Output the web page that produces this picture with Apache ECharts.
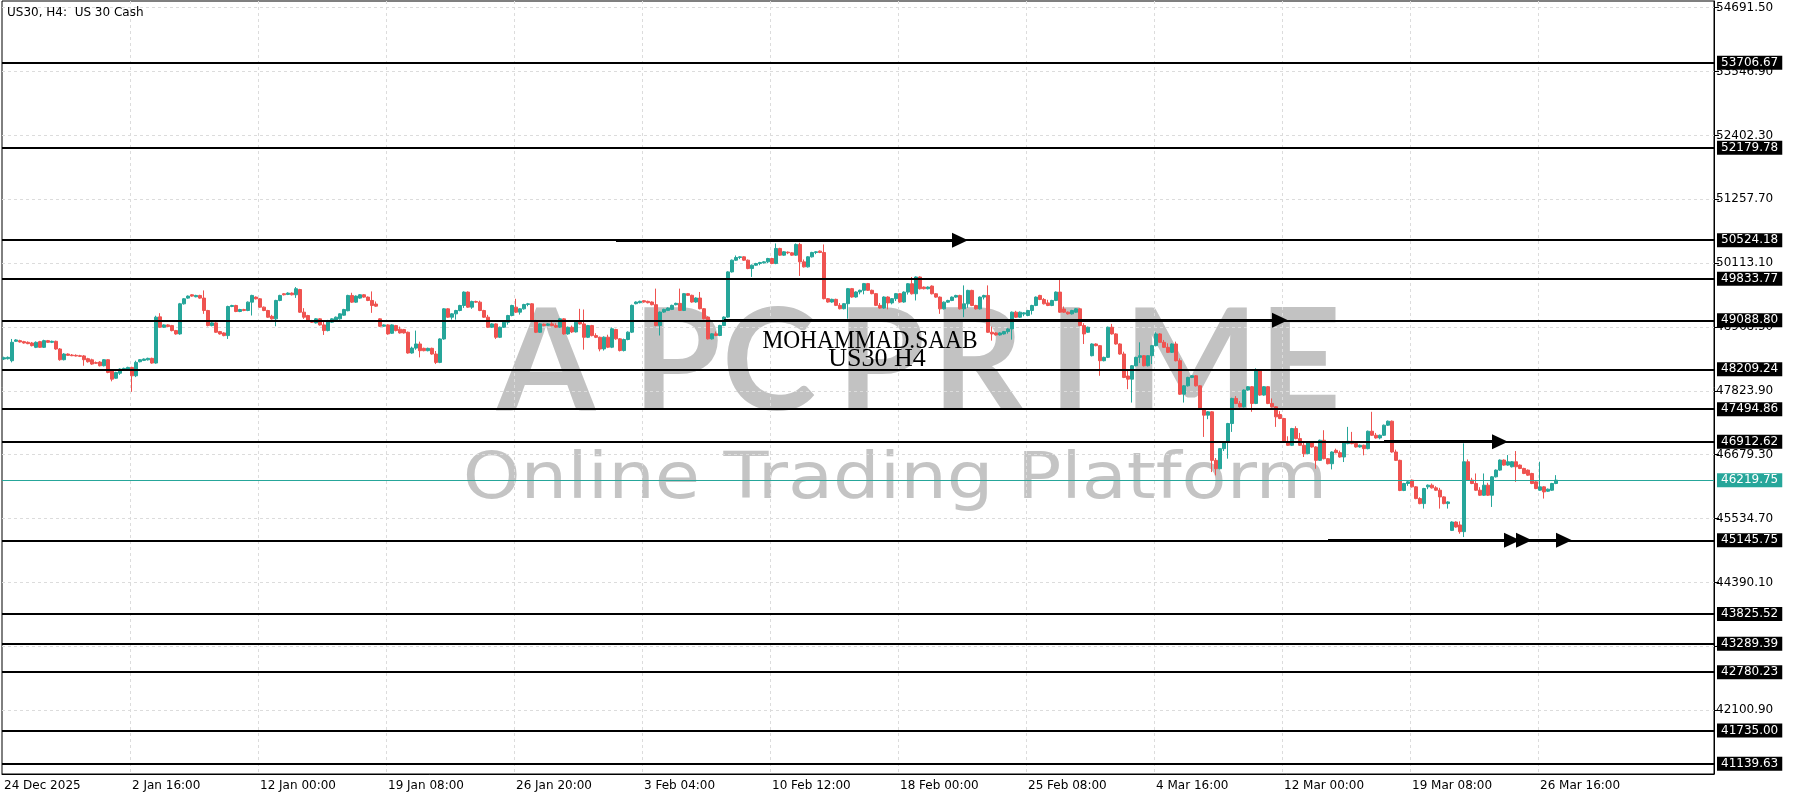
<!DOCTYPE html>
<html>
<head>
<meta charset="utf-8">
<title>US30 H4</title>
<script src="https://cdn.jsdelivr.net/npm/echarts@6/dist/echarts.min.js"></script>
<style>
  html, body { margin: 0; padding: 0; background: #fff; }
  #chart { width: 1800px; height: 800px; }
</style>
</head>
<body>
<div id="chart"></div>
<script>
// H4 bars, [open, close, low, high]
const candles = [
  [48394,48418,48376,48436],[48400,48424,48385,48440],[48364,48694,48334,48754],[48712,48736,48700,48750],[48724,48700,48690,48740],
  [48706,48682,48670,48720],[48694,48670,48660,48710],[48682,48634,48620,48700],[48604,48694,48590,48710],[48706,48604,48592,48720],
  [48604,48724,48592,48740],[48724,48694,48684,48736],[48694,48712,48680,48724],[48712,48574,48560,48724],[48574,48382,48364,48590],
  [48382,48484,48370,48500],[48484,48460,48450,48496],[48466,48454,48445,48484],[48460,48448,48440,48478],[48454,48442,48430,48470],
  [48450,48382,48274,48466],[48400,48346,48330,48416],[48380,48304,48290,48400],[48330,48318,48306,48350],[48340,48274,48262,48356],
  [48274,48382,48262,48392],[48382,48154,48140,48392],[48184,48034,47994,48196],[48050,48154,48040,48166],[48140,48214,48110,48226],
  [48202,48226,48190,48240],[48210,48244,48196,48256],[48244,48094,47806,48256],[48094,48334,48070,48364],[48346,48382,48334,48394],
  [48370,48394,48358,48404],[48380,48406,48368,48418],[48406,48322,48310,48418],[48322,49144,48310,49170],[49150,48964,48950,49216],
  [48964,49006,48950,49018],[49006,48976,48964,49018],[48994,48904,48890,49006],[48904,48844,48830,48916],[48844,49384,48830,49400],
  [49384,49474,49370,49486],[49486,49522,49474,49534],[49546,49522,49510,49558],[49510,49534,49500,49546],[49534,49486,49474,49546],
  [49486,49264,49204,49624],[49264,48994,48980,49276],[48994,49042,48980,49054],[49042,48874,48862,49054],[48886,48844,48832,48898],
  [48862,48814,48802,48874],[48814,49336,48754,49350],[49336,49354,49324,49366],[49354,49246,49234,49366],[49246,49282,49234,49294],
  [49282,49264,49252,49294],[49264,49414,49252,49426],[49414,49534,49174,49546],[49504,49474,49462,49516],[49474,49324,49312,49486],
  [49324,49264,49252,49336],[49264,49144,49132,49276],[49160,49114,49100,49186],[49114,49444,48982,49456],[49444,49534,49430,49546],
  [49564,49546,49534,49576],[49552,49576,49540,49590],[49576,49546,49534,49588],[49546,49654,49490,49684],[49640,49234,49220,49652],
  [49234,49144,49114,49306],[49174,49084,49070,49186],[49084,49054,49042,49096],[49042,49114,49030,49126],[49114,49006,48994,49126],
  [49006,48904,48826,49066],[48904,49084,48890,49096],[49054,49114,49040,49126],[49084,49144,49070,49156],[49114,49204,49100,49216],
  [49180,49282,49170,49294],[49260,49534,49250,49546],[49534,49414,49400,49582],[49414,49522,49402,49534],[49486,49546,49474,49558],
  [49546,49504,49492,49558],[49504,49444,49432,49516],[49444,49354,49222,49606],[49380,49342,49330,49426],[49114,48982,48970,49126],
  [48982,49006,48970,49018],[49006,48844,48830,49018],[48856,49006,48844,49018],[48994,48904,48890,49006],[48930,48862,48850,48976],
  [48922,48862,48850,48934],[48874,48502,48490,48886],[48502,48590,48490,48616],[48590,48664,48560,48904],[48664,48544,48424,48706],
  [48586,48544,48532,48598],[48544,48586,48532,48598],[48586,48484,48472,48598],[48484,48334,48304,48538],[48334,48754,48320,48766],
  [48754,49294,48740,49306],[49294,49144,49130,49306],[49144,49204,49100,49216],[49204,49264,49100,49276],[49264,49354,49250,49366],
  [49354,49594,49310,49606],[49594,49324,49310,49606],[49324,49426,49294,49440],[49426,49414,49402,49440],[49414,49264,49252,49440],
  [49264,49144,49132,49276],[49144,48964,48950,49186],[48964,49024,48950,49036],[49024,48784,48754,49036],[48784,48964,48770,48976],
  [48964,49054,48950,49066],[49054,49174,49010,49186],[49174,49354,49160,49366],[49324,49234,49220,49474],[49234,49294,49190,49306],
  [49294,49372,49280,49384],[49372,49384,49340,49400],[49384,49084,49070,49396],[49084,48874,48860,49096],[48874,49024,48862,49036],
  [49018,48994,48982,49030],[48998,49024,48986,49036],[49024,48994,48982,49054],[48994,48964,48952,49036],[48964,49114,48950,49126],
  [49114,48844,48830,49126],[48844,48964,48830,48976],[48964,48880,48862,48994],[48880,49054,48870,49066],[49054,49024,49012,49294],
  [49024,48784,48562,49282],[48784,48994,48770,49006],[48994,48814,48800,49006],[48814,48784,48770,48856],[48784,48574,48532,48796],
  [48576,48786,48546,48800],[48786,48606,48590,48830],[48606,48936,48590,48960],[48924,48756,48740,48936],[48756,48546,48530,48770],
  [48546,48744,48530,48760],[48744,48876,48730,48890],[48876,49356,48860,49370],[49386,49416,49374,49428],[49404,49428,49392,49440],
  [49440,49416,49404,49452],[49428,49404,49392,49440],[49416,49368,49356,49428],[49368,48996,48980,49656],[48996,49236,48816,49248],
  [49236,49284,49222,49296],[49266,49308,49254,49320],[49284,49356,49272,49368],[49368,49392,49356,49404],[49392,49266,49254,49656],
  [49266,49566,49254,49578],[49566,49536,49524,49578],[49536,49416,49404,49548],[49416,49488,49404,49500],[49488,49296,49284,49596],
  [49296,49116,49104,49308],[49146,48756,48744,49158],[48756,48846,48744,48858],[48846,48816,48804,48888],[48816,48996,48804,49008],
  [48996,49146,48984,49158],[49146,49956,49134,49968],[49956,50166,49944,50178],[50166,50214,50154,50250],[50214,50226,50184,50238],
  [50226,50166,50154,50238],[50166,50016,50004,50178],[50016,50076,49866,50088],[50076,50106,50064,50118],[50106,50124,50076,50136],
  [50118,50136,50106,50148],[50136,50196,50112,50208],[50196,50106,50094,50208],[50106,50376,50094,50466],[50376,50256,50244,50388],
  [50256,50316,50244,50328],[50310,50298,50274,50322],[50298,50256,50244,50310],[50256,50448,50244,50466],[50448,50136,49884,50478],
  [50136,50046,50034,50178],[50046,50226,50034,50238],[50226,50304,50214,50316],[50304,50316,50274,50328],[50328,50304,50292,50340],
  [50304,49476,49464,50448],[49476,49416,49404,49488],[49416,49464,49404,49476],[49464,49356,49344,49476],[49356,49296,49284,49398],
  [49296,49386,49284,49398],[49386,49656,49116,49668],[49656,49506,49494,49668],[49506,49596,49494,49608],[49596,49626,49554,49638],
  [49626,49746,49554,49758],[49746,49626,49614,49758],[49626,49566,49554,49638],[49566,49356,49344,49578],[49356,49308,49296,49398],
  [49308,49506,49296,49518],[49506,49400,49284,49518],[49400,49476,49374,49488],[49476,49566,49434,49578],[49566,49416,49404,49578],
  [49416,49594,49404,49606],[49594,49744,49550,49756],[49744,49564,49550,49864],[49564,49864,49444,49876],[49864,49654,49640,49876],
  [49684,49654,49642,49696],[49654,49684,49642,49696],[49702,49564,49552,49714],[49564,49504,49492,49576],[49504,49294,49204,49516],
  [49294,49414,49282,49426],[49414,49444,49402,49456],[49444,49504,49432,49516],[49504,49534,49492,49546],[49534,49294,49282,49546],
  [49294,49384,49144,49714],[49384,49624,49312,49636],[49624,49354,49342,49636],[49354,49294,49282,49366],[49294,49504,49282,49516],
  [49504,49534,49462,49546],[49534,48874,48862,49714],[48874,48844,48724,48976],[48862,48826,48814,48874],[48826,48862,48814,48874],
  [48844,48886,48832,48898],[48886,48934,48850,48946],[48934,49234,48742,49246],[49234,49144,49132,49258],[49144,49234,49132,49246],
  [49200,49222,49162,49234],[49174,49264,49162,49276],[49264,49354,49192,49366],[49354,49504,49342,49516],[49534,49462,49450,49546],
  [49462,49384,49372,49486],[49400,49354,49342,49456],[49354,49444,49342,49456],[49444,49594,49432,49606],[49594,49234,49222,49834],
  [49290,49234,49222,49336],[49234,49204,49192,49246],[49204,49264,49192,49276],[49234,49294,49222,49306],[49294,48994,48982,49306],
  [48994,48844,48664,49036],[48874,48964,48862,48976],[48454,48664,48442,48676],[48664,48634,48622,48676],[48634,48364,48094,48646],
  [48364,48424,48352,48436],[48424,48964,48412,48976],[48964,48844,48832,49024],[48844,48664,48652,48856],[48664,48484,48472,48676],
  [48484,48064,48052,48526],[48090,48034,47854,48196],[48034,48274,47614,48286],[48274,48424,48262,48436],[48424,48454,48322,48694],
  [48454,48274,48262,48466],[48274,48454,48262,48466],[48454,48634,48304,48646],[48634,48844,48622,48874],[48844,48694,48682,48856],
  [48694,48604,48592,48736],[48604,48514,48502,48676],[48514,48664,48502,48676],[48664,48364,48352,48706],[48364,47764,47752,48406],
  [47764,47914,47614,47926],[47914,48064,47902,48076],[48064,48094,48052,48106],[48094,47914,47902,48106],[47914,47494,47482,47926],
  [47494,47388,46998,47506],[47388,47448,47316,47460],[47448,46578,46368,47460],[46578,46428,46308,46620],[46428,46788,46416,46800],
  [46788,46908,46746,46920],[46908,47238,46608,47250],[47238,47688,47088,47700],[47688,47598,47586,47730],[47598,47538,47526,47640],
  [47538,47838,47526,47850],[47838,47898,47826,47910],[47898,47598,47448,47910],[47598,48198,47586,48228],[48198,47748,47736,48210],
  [47748,47898,47736,47910],[47898,47598,47586,47910],[47598,47538,47526,47688],[47538,47358,47178,47550],[47400,47328,47316,47460],
  [47328,46908,46896,47340],[46908,46848,46836,47010],[46848,47148,46836,47160],[47148,46968,46956,47190],[46968,46848,46836,47070],
  [46848,46698,46638,46890],[46698,46908,46686,46920],[46908,46818,46806,46920],[46818,46578,46428,46830],[46578,46938,46566,46950],
  [46938,46608,46596,47118],[46608,46518,46506,46620],[46518,46728,46416,46740],[46758,46716,46704,46788],[46716,46638,46626,46752],
  [46638,46908,46548,46920],[46878,46920,46866,47178],[46920,46878,46866,47088],[46878,46818,46806,46920],[46818,46848,46806,46860],
  [46848,46788,46668,46860],[46788,47100,46776,47112],[47100,47028,47016,47448],[47028,46980,46968,47070],[46980,47028,46956,47040],
  [47028,47208,47016,47220],[47208,47280,47196,47292],[47280,46728,46716,47292],[46728,46578,46566,46770],[46578,46038,46026,46590],
  [46038,46163,46026,46175],[46163,46193,46121,46205],[46223,46103,46091,46235],[46103,45893,45881,46115],[45893,45803,45791,45917],
  [45803,46073,45713,46085],[46103,46133,46061,46145],[46133,46085,46073,46163],[46085,46043,46031,46115],[46043,45923,45713,46085],
  [45923,45803,45791,45935],[45803,45833,45713,45845],[45323,45473,45311,45485],[45473,45383,45371,45485],[45420,45300,45263,45485],
  [45300,46553,45203,46883],[46553,46223,46211,46595],[46223,46163,46151,46265],[46163,46043,46031,46343],[46043,45953,45941,46097],
  [45953,46133,45941,46343],[46133,45953,45941,46175],[45953,46283,45743,46295],[46283,46403,46271,46415],[46403,46583,46391,46595],
  [46583,46493,46481,46595],[46493,46553,46481,46673],[46463,46553,46451,46565],[46553,46463,46193,46745],[46493,46433,46421,46505],
  [46433,46343,46331,46445],[46403,46313,46301,46415],[46343,46163,46151,46355],[46193,46073,46061,46205],[46043,46103,46031,46553],
  [46103,46013,45893,46115],[46025,46061,46013,46073],[46043,46163,46031,46175],[46163,46223,46151,46313]
];

// time labels, one every 32 bars
const tickLabels = [
  "24 Dec 2025", "2 Jan 16:00", "12 Jan 00:00", "19 Jan 08:00", "26 Jan 20:00",
  "3 Feb 04:00", "10 Feb 12:00", "18 Feb 00:00", "25 Feb 08:00", "4 Mar 16:00",
  "12 Mar 00:00", "19 Mar 08:00", "26 Mar 16:00"
];
const barsPerTick = 32;
const chartShift = 39; // empty bars on the right

// price scale
const priceMin = 40956.3;
const priceMax = 54811.5;
const priceStep = 1144.6;

// horizontal levels drawn on the chart
const levels = [
  53706.67, 52179.78, 50524.18, 49833.77, 49088.80, 48209.24, 47494.86,
  46912.62, 45145.75, 43825.52, 43289.39, 42780.23, 41735.00, 41139.63
];
const lastPrice = 46219.75;

// arrows: [start bar, end bar, price]
const arrows = [
  [153, 239, 50524.18],
  [180, 319, 49088.80],
  [345, 374, 46912.62],
  [331, 377, 45145.75],
  [331, 380, 45145.75],
  [331, 390, 45145.75]
];

const UP = "#26a69a";
const DOWN = "#ef5350";
const FONT = "DejaVu Sans";

const categories = Array.from({ length: candles.length + chartShift }, (_, i) => String(i));
const isTick = (i) => i % barsPerTick === 0 && i / barsPerTick < tickLabels.length;

const chart = echarts.init(document.getElementById("chart"), null, { renderer: "canvas" });

const levelLines = levels.map((v) => ({
  yAxis: v,
  lineStyle: { color: "#000", width: 2, type: "solid" },
  label: { backgroundColor: "#000", color: "#fff" }
}));
levelLines.push({
  yAxis: lastPrice,
  lineStyle: { color: UP, width: 1, type: "solid" },
  label: { backgroundColor: UP, color: "#fff" }
});

const arrowLines = arrows.map((a) => [
  { coord: [a[0], a[2]], symbol: "none" },
  {
    coord: [a[1], a[2]],
    symbol: "triangle",
    symbolSize: [15, 16],
    lineStyle: { color: "#000", width: 3, type: "solid" },
    label: { show: false }
  }
]);

// watermark letters
const logo = "APCPRIME";
const logoX = [546, 677, 769, 881, 978, 1070, 1191, 1300];
const centered = { textAlign: "center", align: "center", textVerticalAlign: "middle", verticalAlign: "middle" };
const graphics = logo.split("").map((ch, i) => ({
  type: "text",
  x: logoX[i],
  y: 364,
  z: -10,
  silent: true,
  style: Object.assign({ text: ch, font: "bold 142px Lato", fill: "#c2c2c2" }, centered)
}));
graphics.push(
  {
    type: "text", x: 895, y: 481, z: -10, silent: true, scaleX: 1.15,
    style: Object.assign({ text: "Online Trading Platform", font: "64px " + FONT, fill: "#c4c4c4" }, centered)
  },
  {
    type: "text", x: 870, y: 341, z: 100, silent: true, scaleX: 0.9,
    style: Object.assign({ text: "MOHAMMAD.SAAB", font: "26px 'Liberation Serif'", fill: "#000" }, centered)
  },
  {
    type: "text", x: 877, y: 359, z: 100, silent: true, scaleX: 1.0,
    style: Object.assign({ text: "US30 H4", font: "26px 'Liberation Serif'", fill: "#000" }, centered)
  },
  {
    type: "text", x: 7, y: 13, z: 100, silent: true,
    style: {
      text: "US30, H4:  US 30 Cash", font: "12px " + FONT, fill: "#000",
      textAlign: "left", align: "left", textVerticalAlign: "middle", verticalAlign: "middle"
    }
  }
);

const option = {
  animation: false,
  backgroundColor: "#fff",
  grid: {
    left: 2, right: 86, top: 1, bottom: 26,
    show: true, borderColor: "#000", borderWidth: 1, backgroundColor: "transparent"
  },
  xAxis: {
    type: "category",
    data: categories,
    boundaryGap: true,
    axisLine: { lineStyle: { color: "#000", width: 1 } },
    axisTick: { interval: (i) => isTick(i), alignWithLabel: true, length: 5, lineStyle: { color: "#000" } },
    axisLabel: {
      interval: (i) => isTick(i),
      formatter: (v, i) => (isTick(i) ? tickLabels[i / barsPerTick] : ""),
      align: "left",
      margin: 6,
      color: "#000",
      fontFamily: FONT,
      fontSize: 12
    },
    splitLine: {
      show: true,
      showMinLine: false,
      showMaxLine: false,
      interval: (i) => isTick(i),
      lineStyle: { color: "#dcdcdc", type: [3, 3], width: 1 }
    }
  },
  yAxis: {
    type: "value",
    position: "right",
    min: priceMin,
    max: priceMax,
    interval: priceStep,
    axisLine: { show: true, lineStyle: { color: "#000", width: 1 } },
    axisTick: { show: true, length: 5, lineStyle: { color: "#000" } },
    axisLabel: {
      showMinLabel: false,
      showMaxLabel: false,
      margin: 2,
      color: "#000",
      fontFamily: FONT,
      fontSize: 12,
      formatter: (v) => v.toFixed(2)
    },
    splitLine: {
      show: true,
      showMinLine: false,
      showMaxLine: false,
      lineStyle: { color: "#dcdcdc", type: [3, 3], width: 1 }
    }
  },
  graphic: { elements: graphics },
  series: [
    {
      type: "candlestick",
      data: candles,
      barWidth: 3,
      itemStyle: {
        color: UP,
        color0: DOWN,
        borderColor: UP,
        borderColor0: DOWN,
        borderWidth: 1
      },
      markLine: {
        silent: true,
        symbol: "none",
        animation: false,
        label: {
          show: true,
          position: "end",
          distance: 3,
          fontFamily: FONT,
          fontSize: 12,
          lineHeight: 14,
          padding: [0, 4, 0, 4],
          formatter: (p) => Number(p.value).toFixed(2)
        },
        data: levelLines.concat(arrowLines)
      }
    }
  ]
};

chart.setOption(option);
</script>
</body>
</html>
